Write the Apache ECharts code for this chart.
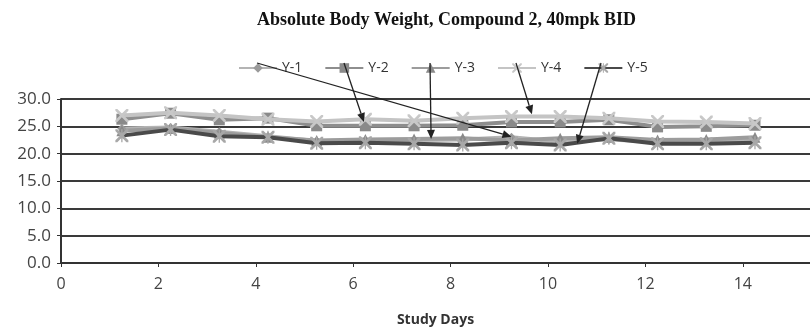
<!DOCTYPE html>
<html>
<head>
<meta charset="utf-8">
<script src="https://cdn.jsdelivr.net/npm/echarts@6/dist/echarts.min.js"></script>
<style>html,body{margin:0;padding:0;background:#fff;}#c{width:810px;height:327px;}</style>
</head>
<body>
<div id="c"></div>
<script>
const titleText = 'Absolute Body Weight, Compound 2, 40mpk BID';
const xTitle = 'Study Days';
const seriesNames = ['Y-1', 'Y-2', 'Y-3', 'Y-4', 'Y-5'];
const days = [1.25, 2.25, 3.25, 4.25, 5.25, 6.25, 7.25, 8.25, 9.25, 10.25, 11.25, 12.25, 13.25, 14.25];
const y1 = [24.6, 24.8, 24.0, 23.2, 22.3, 22.4, 22.5, 22.6, 23.0, 22.2, 22.6, 22.2, 22.2, 22.5];
const y2 = [26.3, 27.4, 26.2, 26.5, 25.1, 25.1, 25.1, 25.2, 25.8, 25.8, 26.2, 24.9, 25.0, 25.2];
const y3 = [24.2, 24.6, 23.8, 23.0, 22.4, 22.6, 22.7, 22.8, 22.4, 22.8, 23.0, 22.5, 22.6, 23.0];
const y4 = [27.0, 27.5, 27.0, 26.3, 25.9, 26.3, 26.0, 26.5, 26.8, 26.8, 26.5, 25.9, 25.8, 25.5];
const y5 = [23.3, 24.4, 23.2, 23.0, 21.9, 22.0, 21.8, 21.6, 22.0, 21.6, 22.8, 21.8, 21.8, 22.0];
const xTicks = [0, 2, 4, 6, 8, 10, 12, 14];
const yTicks = [0, 5, 10, 15, 20, 25, 30];
// annotation arrow targets (data coords) for each legend entry
const arrowTargets = [[9.25, 23.1], [6.22, 25.8], [7.6, 22.7], [9.67, 27.2], [10.6, 21.8]];

const XPATH = 'path://M0,0 L3,0 L10,7 L17,0 L20,0 L20,3 L13,10 L20,17 L20,20 L17,20 L10,13 L3,20 L0,20 L0,17 L7,10 L0,3 Z';
const STARPATH = 'path://M0,0 L3,0 L9,6 L9,0 L11,0 L11,6 L17,0 L20,0 L20,3 L13,10 L20,17 L20,20 L17,20 L11,14 L11,20 L9,20 L9,14 L3,20 L0,20 L0,17 L7,10 L0,3 Z';

const styles = [
  {line: '#b4b4b4', sym: 'diamond', size: 9, fill: '#9a9a9a'},
  {line: '#8e8e8e', sym: 'rect', size: 11, fill: '#8a8a8a'},
  {line: '#9c9c9c', sym: 'triangle', size: 11, fill: '#8a8a8a'},
  {line: '#c4c4c4', sym: XPATH, size: 13, fill: '#c8c8c8'},
  {line: '#4a4a4a', sym: STARPATH, size: 13, fill: '#a8a8a8'}
];
const values = [y1, y2, y3, y4, y5];

const chart = echarts.init(document.getElementById('c'));
const series = seriesNames.map((n, i) => ({
  name: n,
  type: 'line',
  data: days.map((d, k) => [d, values[i][k]]),
  symbol: styles[i].sym,
  symbolSize: styles[i].size,
  showAllSymbol: true,
  lineStyle: {color: styles[i].line, width: 4},
  itemStyle: {color: styles[i].fill, borderWidth: 0},
  emphasis: {disabled: true},
  z: 3 + i
}));

chart.setOption({
  animation: false,
  backgroundColor: '#fff',
  title: {
    text: titleText,
    left: 252, top: 6,
    textStyle: {fontFamily: 'Liberation Serif', fontWeight: 'bold', fontSize: 18, color: '#111'}
  },
  legend: {
    data: seriesNames,
    left: 233, top: 56,
    itemWidth: 38, itemHeight: 12, itemGap: 22,
    textStyle: {fontFamily: 'Open Sans', fontSize: 14, color: '#333'},
    selectedMode: false
  },
  grid: {left: 61, right: 0, top: 99, bottom: 64, outerBoundsMode: 'none'},
  xAxis: {
    type: 'value', min: 0, max: 15.38, interval: 2,
    name: xTitle, nameLocation: 'middle', nameGap: 50,
    nameTextStyle: {fontFamily: 'Open Sans', fontWeight: 'bold', fontSize: 14, color: '#333'},
    axisLine: {show: true, lineStyle: {color: '#333', width: 2}},
    axisTick: {show: true, length: 4, lineStyle: {color: '#333', width: 1}},
    axisLabel: {
      margin: 13, fontFamily: 'Open Sans', fontSize: 16, color: '#444',
      showMaxLabel: false,
      formatter: v => (xTicks.indexOf(v) >= 0 ? String(v) : '')
    },
    splitLine: {show: false}
  },
  yAxis: {
    type: 'value', min: 0, max: 30, interval: 5,
    axisLine: {show: true, lineStyle: {color: '#333', width: 2}},
    axisTick: {show: true, length: 4, lineStyle: {color: '#333', width: 1}},
    axisLabel: {
      margin: 10, fontFamily: 'Open Sans', fontSize: 17, color: '#444',
      formatter: v => (yTicks.indexOf(v) >= 0 ? v.toFixed(1) : '')
    },
    splitLine: {show: true, lineStyle: {color: '#3a3a3a', width: 2}}
  },
  series: series
});

// annotation arrows from legend icons to the series lines
const legendIconCenters = [[257, 63], [344, 63], [430, 63], [516, 63], [601, 63]];
const graphics = [];
arrowTargets.forEach((t, i) => {
  const p = chart.convertToPixel({gridIndex: 0}, t);
  const s = legendIconCenters[i];
  const ang = Math.atan2(p[1] - s[1], p[0] - s[0]);
  const L = 9, W = 4;
  const bx = p[0] - L * Math.cos(ang), by = p[1] - L * Math.sin(ang);
  graphics.push({
    type: 'line', z: 100,
    shape: {x1: s[0], y1: s[1], x2: bx, y2: by},
    style: {stroke: '#222', lineWidth: 1.3}
  });
  graphics.push({
    type: 'polygon', z: 100,
    shape: {points: [
      [p[0], p[1]],
      [bx + W * Math.sin(ang), by - W * Math.cos(ang)],
      [bx - W * Math.sin(ang), by + W * Math.cos(ang)]
    ]},
    style: {fill: '#222'}
  });
});
chart.setOption({graphic: graphics});
</script>
</body>
</html>
